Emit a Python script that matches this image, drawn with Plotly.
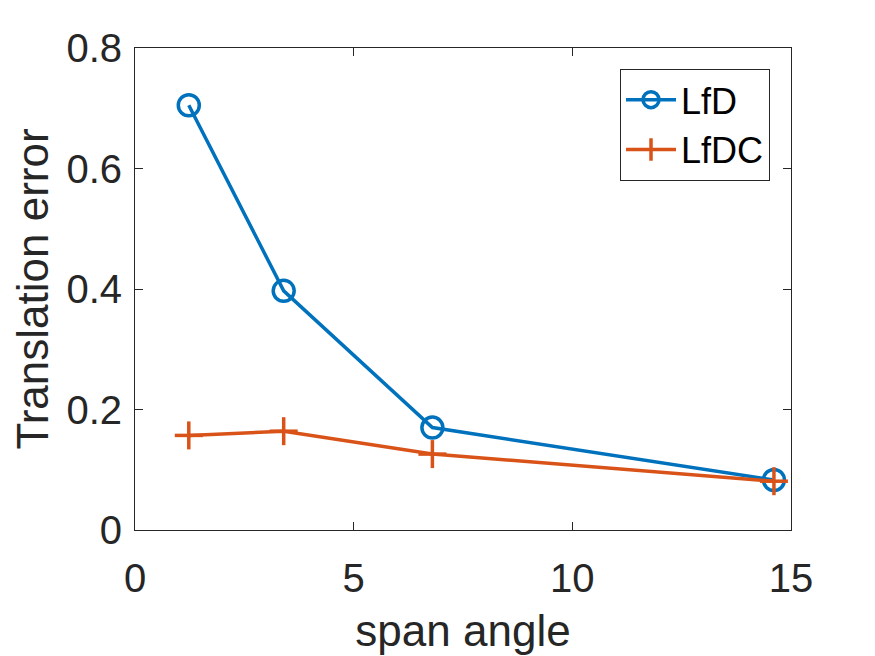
import plotly.graph_objects as go

span_angle = [1.23, 3.40, 6.80, 14.61]
lfd_err = [0.705, 0.397, 0.170, 0.083]
lfdc_err = [0.157, 0.164, 0.126, 0.081]

blue = "#0072BD"
orange = "#D95319"
axcol = "#262626"

fig = go.Figure()
fig.add_trace(go.Scatter(x=span_angle, y=lfd_err, name="LfD", mode="lines+markers",
                         line=dict(color=blue, width=3.5),
                         marker=dict(symbol="circle-open", size=21, color=blue,
                                     line=dict(width=3.5, color=blue))))
fig.add_trace(go.Scatter(x=span_angle, y=lfdc_err, name="LfDC", mode="lines+markers",
                         line=dict(color=orange, width=3.5),
                         marker=dict(symbol="line-ns-open", size=20, color=orange,
                                     line=dict(width=3.5, color=orange))))
# horizontal bar of the "+" markers
fig.add_trace(go.Scatter(x=span_angle, y=lfdc_err, mode="markers", showlegend=False,
                         hoverinfo="skip",
                         marker=dict(symbol="line-ew-open", size=20, color=orange,
                                     line=dict(width=3.5, color=orange))))

axis_common = dict(showline=True, linecolor=axcol, linewidth=1, mirror="ticks",
                   ticks="inside", ticklen=8, tickcolor=axcol, showgrid=False,
                   zeroline=False, automargin=False,
                   tickfont=dict(size=40, color=axcol),
                   title_font=dict(size=44, color=axcol))

fig.update_xaxes(range=[0, 15], tickvals=[0, 5, 10, 15], title_text="span angle",
                 title_standoff=16, ticklabelstandoff=13, **axis_common)
fig.update_yaxes(range=[0, 0.8], tickvals=[0, 0.2, 0.4, 0.6, 0.8],
                 ticktext=["0", "0.2", "0.4", "0.6", "0.8"],
                 title_text="Translation error", title_standoff=18,
                 ticklabelstandoff=4, **axis_common)

# the page has an 8px body margin, so margins are shifted to keep the plot box in place
fig.update_layout(
    width=875, height=656,
    margin=dict(l=127, r=92, t=40, b=134),
    paper_bgcolor="white", plot_bgcolor="white",
    font=dict(family="Liberation Sans, Arial, sans-serif", color=axcol),
    legend=dict(x=0.968, y=0.957, xanchor="right", yanchor="top",
                bgcolor="white", bordercolor=axcol, borderwidth=1,
                font=dict(size=36, color="black"), itemwidth=50,
                tracegroupgap=0),
)

fig.write_html("out.html")
